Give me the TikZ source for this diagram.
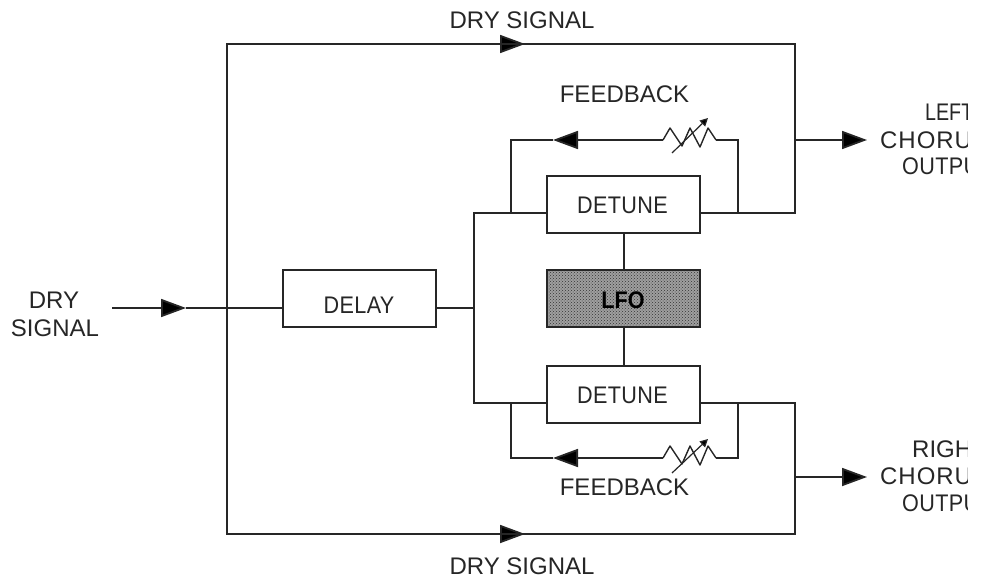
\documentclass[tikz,border=0pt]{standalone}
\usepackage{fontspec}
\setmainfont{Liberation Sans}
\newfontfamily\narrowf[FakeStretch=0.9]{Liberation Sans}
\usetikzlibrary{arrows.meta,patterns}
\tikzset{
  x=1pt,y=-1pt,
  wire/.style={line width=1.8pt,draw=black!85,line join=miter},
  flow/.style={wire,-{Triangle[length=25pt,width=18pt,fill=black]}},
  block/.style={wire,draw,fill=white,minimum width=153pt,minimum height=57pt,inner sep=0pt,outer sep=0pt},
  lab/.style={inner sep=0pt,font=\fontsize{24}{26}\selectfont,text=black!85},
  tight/.style={inner sep=0pt,font=\narrowf\fontsize{24}{26}\selectfont\addfontfeature{LetterSpace=1.5},text=black!85},
  wide/.style={inner sep=0pt,font=\fontsize{24}{26}\selectfont\addfontfeature{LetterSpace=4},text=black!85},
  zig/.style={line width=1.4pt,draw=black!85,line join=round},
  adj/.style={line width=1.2pt,draw=black!85,-{Triangle[length=8pt,width=8pt,fill=black]}},
}
\begin{document}
\begin{tikzpicture}
\useasboundingbox (0,0) rectangle (981,580);
% blocks
\node[block] (delay) at (359.5,298.5) {};
\node[tight] at (359,305) {DELAY};
\node[block] (dt1) at (623.5,204.5) {};
\node[tight] at (622.5,205) {DETUNE};
\node[block] (dt2) at (623.5,394.5) {};
\node[tight] at (622.5,395) {DETUNE};
\node[block,fill=gray!75] (lfo) at (623.5,298.5) {};
\fill[pattern=crosshatch dots,pattern color=black!80] (lfo.south west) rectangle (lfo.north east);
\draw[wire] (lfo.south west) rectangle (lfo.north east);
\node[inner sep=0pt,font=\narrowf\bfseries\fontsize{24}{26}\selectfont,text=black] at (623,300) {LFO};
% named points
\coordinate (in) at (112,308);
\coordinate (inA) at (186,308);
\coordinate (nw) at (227,44);
\coordinate (sw) at (227,534);
\coordinate (topA) at (525,44);
\coordinate (botA) at (525,534);
\coordinate (ne) at (795,44);
\coordinate (se) at (795,534);
\coordinate (ojt) at (795,213);
\coordinate (ojb) at (795,403);
\coordinate (j) at (474,308);
\coordinate (jt) at (474,213);
\coordinate (jb) at (474,403);
\coordinate (fl1) at (511,213);
\coordinate (fl1u) at (511,140);
\coordinate (fr1) at (738,213);
\coordinate (fr1u) at (738,140);
\coordinate (r1a) at (716,140);
\coordinate (r1b) at (663,140);
\coordinate (a1) at (553,140);
\coordinate (fl2) at (511,403);
\coordinate (fl2d) at (511,458);
\coordinate (fr2) at (738,403);
\coordinate (fr2d) at (738,458);
\coordinate (r2a) at (716,458);
\coordinate (r2b) at (663,458);
\coordinate (a2) at (553,458);
\coordinate (ol) at (795,140);
\coordinate (olA) at (867,140);
\coordinate (or) at (795,477);
\coordinate (orA) at (867,477);
% input
\draw[flow] (in) -- (inA);
\draw[wire] (inA) -- (delay.west |- inA);
% dry paths
\draw[flow] (nw) -- (topA);
\draw[flow] (sw) -- (botA);
\draw[wire] (topA) -- (nw) -- (sw) -- (botA);
\draw[wire] (topA) -- (ne) -- (ojt) -- (dt1.east |- ojt);
\draw[wire] (botA) -- (se) -- (ojb) -- (dt2.east |- ojb);
% delay to detunes
\draw[wire] (delay.east |- j) -- (j);
\draw[wire] (dt1.west |- jt) -- (jt) -- (jb) -- (dt2.west |- jb);
% LFO links
\draw[wire] ([xshift=.5pt]dt1.south) -- ([xshift=.5pt]lfo.north);
\draw[wire] ([xshift=.5pt]lfo.south) -- ([xshift=.5pt]dt2.north);
% feedback top
\draw[wire] (fr1) -- (fr1u) -- (r1a);
\draw[flow] (r1b) -- (a1);
\draw[wire] (a1) -- (fl1u) -- (fl1);
\draw[zig] (r1a) -- (708,128) -- (700,147) -- (690,128) -- (682,146) -- (670,128) -- (r1b);
\draw[adj] (672,153) -- (708,118);
% feedback bottom
\draw[wire] (fr2) -- (fr2d) -- (r2a);
\draw[flow] (r2b) -- (a2);
\draw[wire] (a2) -- (fl2d) -- (fl2);
\draw[zig] (r2a) -- (708,446) -- (700,465) -- (690,446) -- (682,464) -- (670,446) -- (r2b);
\draw[adj] (672,473) -- (708,439);
% outputs
\draw[flow] (ol) -- (olA);
\draw[flow] (or) -- (orA);
% labels
\node[lab] at (522,20) {DRY SIGNAL};
\node[lab] at (522,566) {DRY SIGNAL};
\node[lab] at (624.5,94) {FEEDBACK};
\node[lab] at (624.5,487.5) {FEEDBACK};
\node[lab] at (54,300) {DRY};
\node[lab] at (55,328) {SIGNAL};
\begin{scope}
\clip (870,90) rectangle (967,530);
\node[lab,anchor=west,xscale=.82,transform shape] at (925,112) {LEFT};
\node[wide,anchor=west] at (880,140) {CHORU};
\node[tight,anchor=west] at (902,166) {OUTPU};
\node[lab,anchor=west] at (912,449) {RIGH};
\node[wide,anchor=west] at (880,476) {CHORU};
\node[tight,anchor=west] at (902,503.5) {OUTPU};
\end{scope}
\end{tikzpicture}
\end{document}
